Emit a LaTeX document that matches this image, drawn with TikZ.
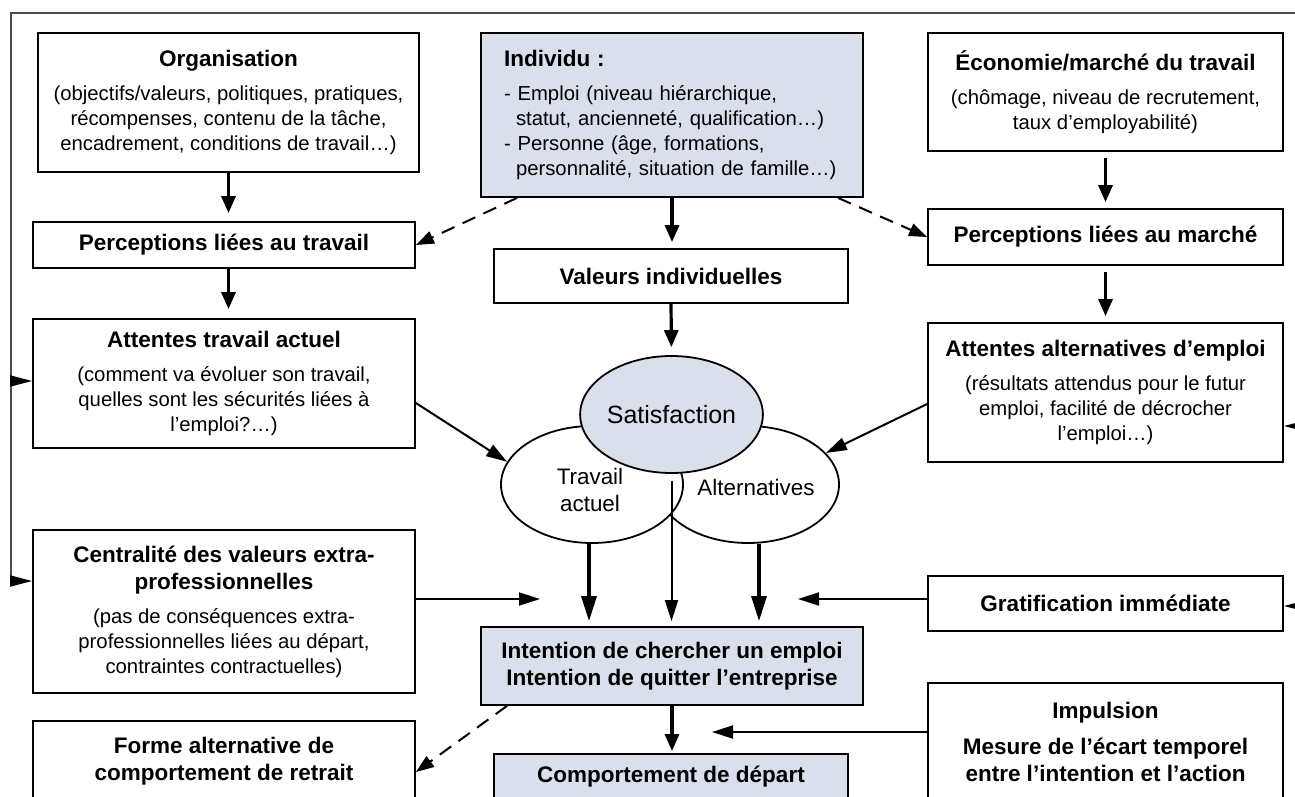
\documentclass[tikz,border=0pt]{standalone}
\usepackage{fontspec}
\setmainfont{Liberation Sans}
\usetikzlibrary{arrows.meta,shapes.geometric,calc}
\definecolor{boxblue}{RGB}{218,223,236}
\newcommand{\bodyf}{\fontsize{20.3}{25}\selectfont}
\newcommand{\titf}{\fontsize{22.5}{27}\selectfont\bfseries}
\newcommand{\ellf}{\fontsize{22.4}{27}\selectfont}
\begin{document}
\begin{tikzpicture}[x=1pt,y=-1pt,
  box/.style={draw=black,line width=1.8pt,fill=white,align=center,inner sep=0pt,font=\bodyf},
  tbox/.style={box,font=\titf},
  bbox/.style={box,fill=boxblue},
  ell/.style={ellipse,draw=black,line width=1.8pt,fill=white,inner sep=0pt,align=center,font=\ellf},
  arr/.style={line width=2pt,-{Triangle[length=21pt,width=13pt]}},
  thk/.style={line width=3.2pt,-{Triangle[length=17pt,width=14pt]}},
  lng/.style={line width=3.2pt,-{Triangle[length=25pt,width=15pt]}},
  dsh/.style={line width=2pt,dash pattern=on 14pt off 9pt,-{Triangle[length=18pt,width=13pt]}},
  fb/.style={line width=1.8pt,draw=black!70},
  fbarr/.style={line width=1.8pt,draw=black,-{Triangle[length=22pt,width=11pt]}}]
\useasboundingbox (0,0) rectangle (1295,796);
\clip (0,0) rectangle (1295,796);
\fill[white] (0,0) rectangle (1295,796);

% left column
\node[box,minimum width=381pt,minimum height=139pt] (org) at (228.5,102.5)
  {{\titf Organisation}\\[9pt](objectifs/valeurs, politiques, pratiques,\\récompenses, contenu de la tâche,\\encadrement, conditions de travail…)};
\node[tbox,minimum width=382pt,minimum height=46pt] (perT) at (224,245) {Perceptions liées au travail};
\node[box,minimum width=382pt,minimum height=129pt] (attT) at (224,383.5)
  {{\titf Attentes travail actuel}\\[9pt](comment va évoluer son travail,\\quelles sont les sécurités liées à\\l’emploi?…)};
\node[box,minimum width=382pt,minimum height=163pt] (centr) at (224,611.5)
  {{\titf Centralité des valeurs extra-}\\[2pt]{\titf professionnelles}\\[9pt](pas de conséquences extra-\\professionnelles liées au départ,\\contraintes contractuelles)};
\node[tbox,minimum width=382pt,minimum height=81pt] (forme) at (224,761.5)
  {Forme alternative de\\comportement de retrait};

% middle column
\node[bbox,minimum width=382pt,minimum height=164pt,text width=336pt,align=left] (indiv) at (672,115)
  {{\titf Individu :}\\[9pt]-\ Emploi (niveau hiérarchique,\\\hspace*{12pt}statut, ancienneté, qualification…)\\-\ Personne (âge, formations,\\\hspace*{12pt}personnalité, situation de famille…)};
\node[tbox,minimum width=354pt,minimum height=54pt] (val) at (671,276) {Valeurs individuelles};
\node[bbox,font=\titf,minimum width=382pt,minimum height=78pt] (intent) at (672,666)
  {Intention de chercher un emploi\\Intention de quitter l’entreprise};
\node[bbox,font=\titf,minimum width=354pt,minimum height=46pt] (comp) at (671,777) {Comportement de départ};

% right column
\node[box,minimum width=355pt,minimum height=118pt] (eco) at (1105.5,92)
  {{\titf Économie/marché du travail}\\[9pt](chômage, niveau de recrutement,\\taux d’employabilité)};
\node[tbox,minimum width=355pt,minimum height=56pt] (perM) at (1105.5,237) {Perceptions liées au marché};
\node[box,minimum width=355pt,minimum height=139pt] (attA) at (1105.5,392.5)
  {{\titf Attentes alternatives d’emploi}\\[9pt](résultats attendus pour le futur\\emploi, facilité de décrocher\\l’emploi…)};
\node[tbox,minimum width=355pt,minimum height=55pt] (grat) at (1105.5,603.5) {Gratification immédiate};
\node[tbox,minimum width=355pt,minimum height=118pt] (impul) at (1105.5,742)
  {Impulsion\\[9pt]Mesure de l’écart temporel\\entre l’intention et l’action};

% ellipses
\node[ell,minimum width=182pt,minimum height=117pt] (alt) at (748,484.5) {};
\node[font=\ellf,inner sep=0pt] (altT) at (756,487) {Alternatives};
\node[ell,minimum width=182pt,minimum height=117pt] (trav) at (592,484.5) {};
\node[font=\ellf,inner sep=0pt,align=center] (travT) at (590,489.5) {Travail\\actuel};
\node[ell,fill=boxblue,minimum width=173pt,minimum height=117pt,font=\fontsize{25}{30}\selectfont] (sat) at (671.5,414.5) {Satisfaction};

% free ends
\coordinate (cTip) at (540,599);
\coordinate (gTip) at (798,599);
\coordinate (iTip) at (712,732);

% vertical arrows
\draw[thk,shorten >=8pt] (org.south) -- (org.south |- perT.north);
\draw[thk,shorten >=9pt] (org.south |- perT.south) -- (org.south |- attT.north);
\draw[thk,shorten >=6pt] (indiv.south) -- (indiv.south |- val.north);
\draw[thk,shorten >=8pt] (val.south) -- (sat.north);
\draw[thk,shorten <=6pt,shorten >=6pt] (eco.south) -- (eco.south |- perM.north);
\draw[thk,shorten <=6pt,shorten >=6pt] (perM.south) -- (perM.south |- attA.north);
\draw[lng,shorten >=5pt] ([xshift=-3pt]trav.south) -- ([xshift=-3pt]trav.south |- intent.north);
\draw[arr,shorten <=7pt,shorten >=5pt] (sat.south) -- (sat.south |- intent.north);
\draw[lng,shorten >=5pt] ([xshift=11pt]alt.south) -- ([xshift=11pt]alt.south |- intent.north);
\draw[thk,shorten >=2pt] (intent.south) -- (intent.south |- comp.north);

% oblique arrows
\draw[arr] ([yshift=-19.5pt]attT.east) -- (trav.165);
\draw[arr] ([yshift=-11.5pt]attA.west) -- (alt.22);
\draw[dsh] ([xshift=-155pt]indiv.south) -- (perT.east);
\draw[dsh] ([xshift=166pt]indiv.south) -- (perM.west);
\draw[dsh] ([xshift=-165pt]intent.south) -- ([yshift=-10.5pt]forme.east);

% horizontal arrows to free ends
\draw[arr] (centr.east |- cTip) -- (cTip);
\draw[arr] (grat.west |- gTip) -- (gTip);
\draw[arr] (impul.west |- iTip) -- (iTip);

% feedback frame
\coordinate (fbTL) at (11,13);
\coordinate (fbTR) at (1300,13);
\coordinate (fbL1) at (11,381);
\coordinate (fbL2) at (11,581);
\coordinate (fbR1) at (1300,426);
\coordinate (fbR2) at (1300,606);
\draw[fb] (fbTR) -- (fbTL) -- (fbL2);
\draw[fbarr] (fbL1) -- (attT.west |- fbL1);
\draw[fbarr] (fbL2) -- (centr.west |- fbL2);
\draw[fbarr] (fbR1) -- (attA.east |- fbR1);
\draw[fbarr] (fbR2) -- (grat.east |- fbR2);
\end{tikzpicture}
\end{document}
